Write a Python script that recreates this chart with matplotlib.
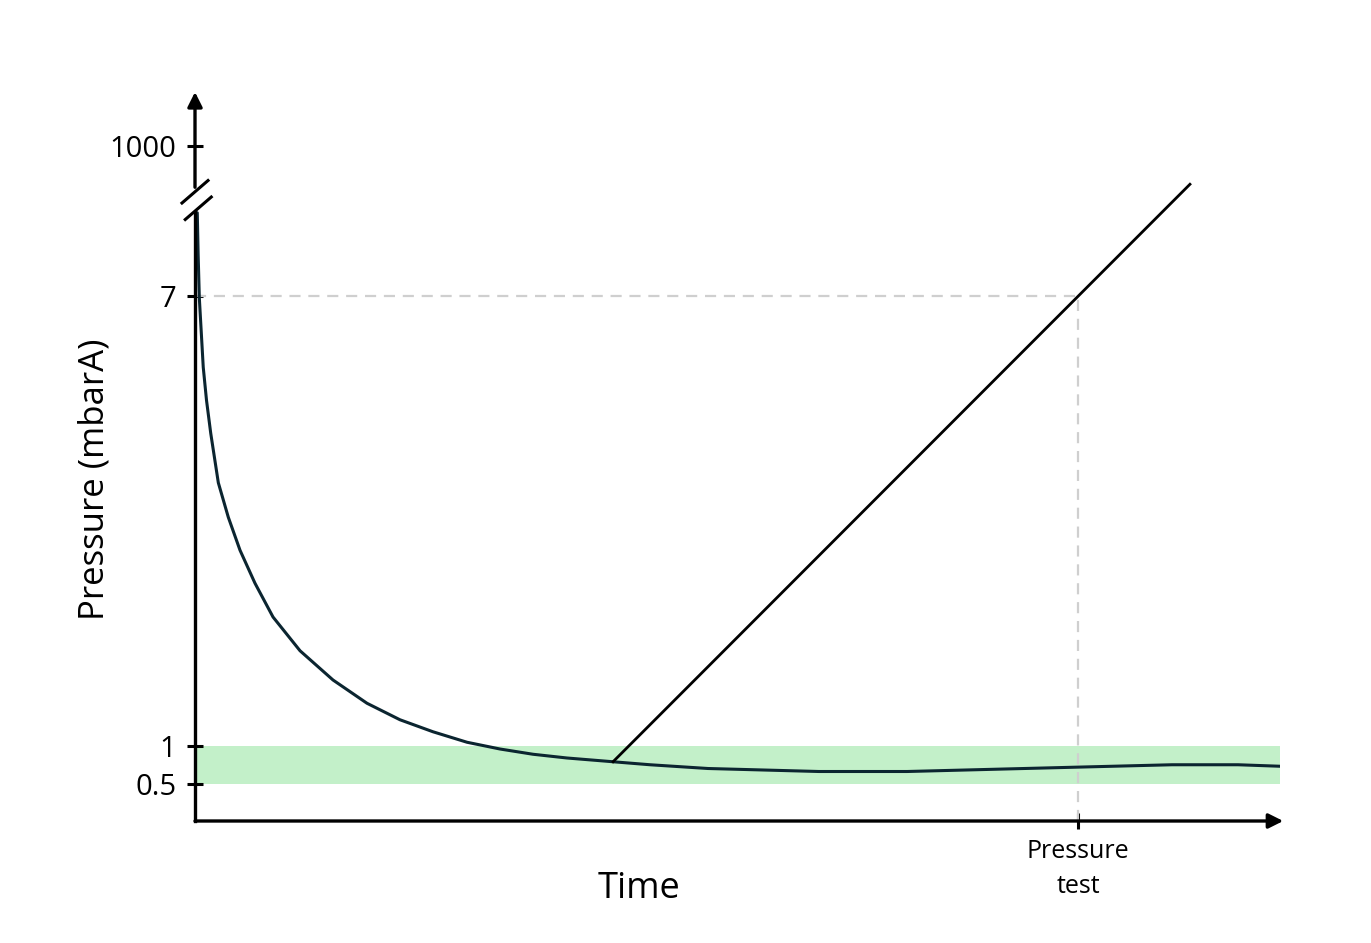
import matplotlib
matplotlib.use("Agg")
import matplotlib.pyplot as plt

# --- data (arbitrary time units 0..100, pressure on a schematic linear scale) ---
pump_time = [0.21, 0.29, 0.40, 0.76, 1.06, 1.45, 2.15, 3.07, 4.15, 5.53, 7.19,
             9.68, 12.72, 15.85, 18.89, 21.93, 25.07, 28.11, 31.15, 34.29, 38.53,
             41.94, 47.28, 57.51, 65.62, 73.73, 81.84, 90.05, 96.13, 100.0]
pump_pressure = [8.11, 7.55, 6.97, 6.05, 5.61, 5.17, 4.51, 4.05, 3.61, 3.17, 2.72,
                 2.27, 1.88, 1.57, 1.35, 1.19, 1.05, 0.96, 0.89, 0.84, 0.79,
                 0.75, 0.70, 0.66, 0.66, 0.69, 0.72, 0.75, 0.75, 0.73]

leak_time = [38.53, 91.7]
leak_pressure = [0.79, 8.49]

band_low, band_high = 0.5, 1.0
test_time = 81.4
test_pressure = 7.0

ytick_pos = [0.5, 1, 7, 9]
ytick_labels = ["0.5", "1", "7", "1000"]

BAND = "#c3f0c9"
CURVE = "#0b2530"
DASH = "#cfcfcf"

plt.rcParams["font.family"] = ["Open Sans", "DejaVu Sans"]

fig = plt.figure(figsize=(13.71, 9.43), dpi=100)
ax = fig.add_axes([195 / 1371, 122 / 943, 1085 / 1371, 728 / 943])
ax.set_xlim(0, 100)
ax.set_ylim(0, 9.707)
for s in ax.spines.values():
    s.set_visible(False)

# acceptable pressure band
ax.axhspan(band_low, band_high, color=BAND, lw=0, zorder=1)

# pressure test guides
ax.plot([0, test_time], [test_pressure, test_pressure], color=DASH, lw=1.6,
        dashes=(5, 3.5), zorder=2)
ax.plot([test_time, test_time], [0, test_pressure], color=DASH, lw=1.6,
        dashes=(5, 3.5), zorder=2)

# curves
ax.plot(pump_time, pump_pressure, color=CURVE, lw=2.2, zorder=4,
        solid_joinstyle="round", solid_capstyle="round")
ax.plot(leak_time, leak_pressure, color="black", lw=2.0, zorder=4)

# axes with arrows and a break on y
arrow = dict(arrowstyle="-|>", color="black", lw=2.4, mutation_scale=22,
             shrinkA=0, shrinkB=0)
ax.plot([0, 0], [0, 8.12], color="black", lw=2.4, clip_on=False, zorder=5)
ax.annotate("", xy=(0, 9.72), xytext=(0, 8.45), arrowprops=arrow,
            annotation_clip=False)
ax.annotate("", xy=(100.3, 0), xytext=(0, 0), arrowprops=arrow,
            annotation_clip=False)
# white gap + break slashes
ax.fill([-1.2, 1.2, 1.5, -0.9], [8.24, 8.54, 8.32, 8.02], color="white",
        zorder=6, clip_on=False)
ax.plot([-1.2, 1.2], [8.24, 8.54], color="black", lw=2.2, clip_on=False, zorder=7)
ax.plot([-0.9, 1.5], [8.02, 8.32], color="black", lw=2.2, clip_on=False, zorder=7)

ax.set_yticks(ytick_pos)
ax.set_yticklabels(ytick_labels)
ax.set_xticks([test_time])
ax.set_xticklabels(["Pressure\ntest"], linespacing=1.5)
ax.tick_params(axis="y", direction="inout", length=11, width=2.2,
               labelsize=21, pad=8)
ax.tick_params(axis="x", direction="inout", length=12, width=2.2,
               labelsize=18, pad=7)

ax.set_ylabel("Pressure (mbarA)", fontsize=25)
ax.yaxis.set_label_coords(-0.077, 0.469)
ax.set_xlabel("Time", fontsize=26)
ax.xaxis.set_label_coords(0.409, -0.068)

fig.savefig("out.png", dpi=100, facecolor="white")
